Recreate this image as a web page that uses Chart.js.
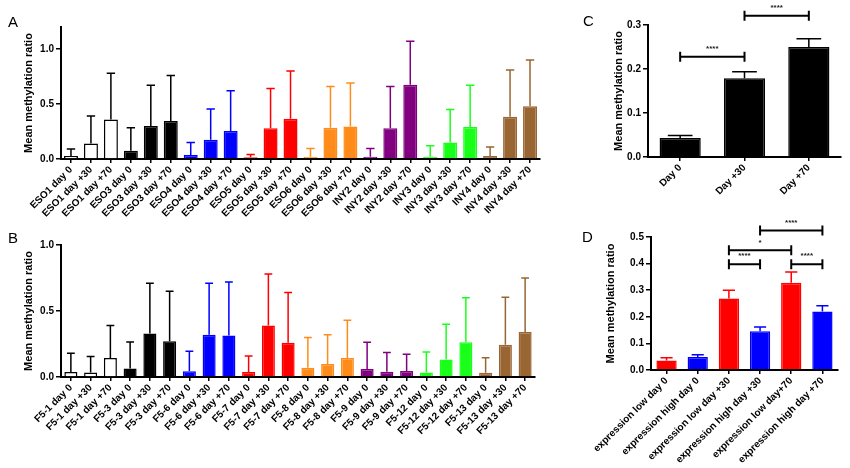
<!DOCTYPE html>
<html>
<head>
<meta charset="utf-8">
<script src="https://cdn.jsdelivr.net/npm/chart.js@4.4.0/dist/chart.umd.min.js"></script>
<style>
    body { margin: 0; background: #fff; width: 850px; height: 468px; position: relative; overflow: hidden; font-family: 'Liberation Sans', Arial, sans-serif; }
    canvas { position: absolute; }
    .tag { position: absolute; font-size: 15px; color: #000; }
</style>
</head>
<body>
<canvas id="chartA" width="550" height="225" style="left:0px;top:0px"></canvas>
<canvas id="chartB" width="550" height="243" style="left:0px;top:225px"></canvas>
<canvas id="chartC" width="260" height="215" style="left:590px;top:0px"></canvas>
<canvas id="chartD" width="260" height="253" style="left:590px;top:215px"></canvas>
<div class="tag" style="left:8px;top:13px">A</div>
<div class="tag" style="left:8px;top:229px">B</div>
<div class="tag" style="left:583px;top:12px">C</div>
<div class="tag" style="left:582px;top:228px">D</div>
<script>
// Panel A
const labelsA = ['ESO1 day 0', 'ESO1 day +30', 'ESO1 day +70', 'ESO3 day 0', 'ESO3 day +30', 'ESO3 day +70',
    'ESO4 day 0', 'ESO4 day +30', 'ESO4 day +70', 'ESO5 day 0', 'ESO5 day +30', 'ESO5 day +70',
    'ESO6 day 0', 'ESO6 day +30', 'ESO6 day +70', 'INY2 day 0', 'INY2 day +30', 'INY2 day +70',
    'INY3 day 0', 'INY3 day +30', 'INY3 day +70', 'INY4 day 0', 'INY4 day +30', 'INY4 day +70'];
const meansA = [0.027, 0.14, 0.36, 0.075, 0.30, 0.345, 0.036, 0.175, 0.255, 0.015, 0.28, 0.365,
    0.02, 0.285, 0.295, 0.02, 0.28, 0.675, 0.02, 0.15, 0.29, 0.027, 0.385, 0.48];
const sdA = [0.063, 0.25, 0.42, 0.21, 0.37, 0.415, 0.114, 0.28, 0.365, 0.025, 0.36, 0.435,
    0.075, 0.375, 0.395, 0.075, 0.38, 0.395, 0.10, 0.30, 0.38, 0.083, 0.425, 0.42];
const ticksA = [0, 0.5, 1.0];

// Panel B
const labelsB = ['F5-1 day 0', 'F5-1 day +30', 'F5-1 day +70', 'F5-3 day 0', 'F5-3 day +30', 'F5-3 day +70',
    'F5-6 day 0', 'F5-6 day +30', 'F5-6 day +70', 'F5-7 day 0', 'F5-7 day +30', 'F5-7 day +70',
    'F5-8 day 0', 'F5-8 day +30', 'F5-8 day +70', 'F5-9 day 0', 'F5-9 day +30', 'F5-9 day +70',
    'F5-12 day 0', 'F5-12 day +30', 'F5-12 day +70', 'F5-13 day 0', 'F5-13 day +30', 'F5-13 day +70'];
const meansB = [0.038, 0.035, 0.143, 0.065, 0.33, 0.27, 0.043, 0.32, 0.315, 0.038, 0.39, 0.26,
    0.07, 0.098, 0.143, 0.06, 0.04, 0.045, 0.035, 0.133, 0.264, 0.033, 0.244, 0.34];
const sdB = [0.142, 0.12, 0.247, 0.20, 0.38, 0.38, 0.153, 0.39, 0.405, 0.122, 0.39, 0.38,
    0.23, 0.222, 0.287, 0.204, 0.146, 0.128, 0.155, 0.267, 0.336, 0.113, 0.361, 0.41];
const ticksB = [0, 0.5, 1.0];

// one colour per patient (3 time points each)
const groupFill = ['#ffffff', '#000000', '#0000ff', '#ff0000', '#ff8c1a', '#800080', '#1aff1a', '#996633'];
const groupLine = ['#000000', '#000000', '#0000ff', '#ff0000', '#ff8c1a', '#800080', '#1aff1a', '#996633'];

// Panel C
const labelsC = ['Day 0', 'Day +30', 'Day +70'];
const meansC = [0.043, 0.179, 0.25];
const sdC = [0.006, 0.015, 0.019];
const ticksC = [0, 0.1, 0.2, 0.3];
const sigC = [
    { from: 0, to: 1, y: 0.228, text: '****' },
    { from: 1, to: 2, y: 0.321, text: '****' }
];

// Panel D
const labelsD = ['expression low day 0', 'expression high day 0', 'expression low day +30',
    'expression high day +30', 'expression low day+70', 'expression high day +70'];
const meansD = [0.036, 0.049, 0.269, 0.146, 0.328, 0.22];
const sdD = [0.010, 0.008, 0.031, 0.016, 0.040, 0.022];
const ticksD = [0, 0.1, 0.2, 0.3, 0.4, 0.5];
const colorsD = ['#ff0000', '#0000ff', '#ff0000', '#0000ff', '#ff0000', '#0000ff'];
const sigD = [
    { from: 2, to: 3, y: 0.398, text: '****' },
    { from: 2, to: 4, y: 0.45, text: '*' },
    { from: 4, to: 5, y: 0.398, text: '****' },
    { from: 3, to: 5, y: 0.524, text: '****' }
];

const FONT = "'Liberation Sans', Arial, sans-serif";

// upper error bars + significance brackets
function overlay(sd, lineColors, brackets) {
    return {
        id: 'overlay',
        afterDatasetsDraw(chart) {
            const ctx = chart.ctx;
            const y = chart.scales.y;
            const ds = chart.data.datasets[0];
            const bars = chart.getDatasetMeta(0).data;
            ctx.save();
            ctx.lineWidth = 1.5;
            bars.forEach((bar, i) => {
                const top = y.getPixelForValue(ds.data[i] + sd[i]);
                const half = bar.width * 0.3;
                ctx.strokeStyle = lineColors[i];
                ctx.beginPath();
                ctx.moveTo(bar.x, bar.y);
                ctx.lineTo(bar.x, top);
                ctx.moveTo(bar.x - half, top);
                ctx.lineTo(bar.x + half, top);
                ctx.stroke();
            });
            ctx.strokeStyle = '#000';
            ctx.fillStyle = '#222';
            ctx.lineWidth = 2;
            ctx.font = 'bold 8px ' + FONT;
            ctx.textAlign = 'center';
            ctx.textBaseline = 'bottom';
            (brackets || []).forEach(b => {
                const x1 = bars[b.from].x, x2 = bars[b.to].x;
                const yy = y.getPixelForValue(b.y);
                ctx.beginPath();
                ctx.moveTo(x1, yy); ctx.lineTo(x2, yy);
                ctx.moveTo(x1, yy - 5); ctx.lineTo(x1, yy + 5);
                ctx.moveTo(x2, yy - 5); ctx.lineTo(x2, yy + 5);
                ctx.stroke();
                ctx.fillText(b.text, (x1 + x2) / 2, yy - 4);
            });
            ctx.restore();
        }
    };
}

function makeChart(id, cfg) {
    new Chart(document.getElementById(id), {
        type: 'bar',
        data: {
            labels: cfg.labels,
            datasets: [{
                data: cfg.means,
                backgroundColor: cfg.fill,
                borderColor: cfg.line,
                borderWidth: 1.5,
                barPercentage: cfg.barPct,
                categoryPercentage: 1
            }]
        },
        options: {
            responsive: false,
            animation: false,
            layout: { padding: { top: cfg.padTop, right: cfg.padRight, left: 0, bottom: 0 } },
            plugins: { legend: { display: false }, tooltip: { enabled: false } },
            scales: {
                x: {
                    afterFit: s => { s.height = cfg.xHeight; },
                    grid: { offset: false, drawOnChartArea: false, color: '#000', lineWidth: 1.5, tickLength: 4 },
                    border: { color: '#000', width: 2 },
                    ticks: {
                        autoSkip: false, minRotation: 45, maxRotation: 45, padding: 1,
                        color: '#000', font: { family: FONT, size: 10, weight: 'bold' }
                    }
                },
                y: {
                    min: 0,
                    max: cfg.yMax,
                    afterFit: s => { s.width = cfg.yWidth; },
                    afterBuildTicks: s => { s.ticks = cfg.yTicks.map(v => ({ value: v })); },
                    grid: { drawOnChartArea: false, color: '#000', lineWidth: 1.5, tickLength: 5 },
                    border: { color: '#000', width: 2 },
                    ticks: {
                        padding: 2, color: '#000',
                        font: { family: FONT, size: 10, weight: 'bold' },
                        callback: v => v.toFixed(1)
                    },
                    title: {
                        display: true,
                        text: 'Mean methylation ratio',
                        color: '#000',
                        padding: { top: cfg.titlePad, bottom: 0 },
                        font: { family: FONT, size: 11, weight: 'bold' }
                    }
                }
            }
        },
        plugins: [overlay(cfg.sd, cfg.line, cfg.brackets)]
    });
}

const byGroup = arr => labelsA.map((_, i) => arr[Math.floor(i / 3)]);

makeChart('chartA', {
    labels: labelsA, means: meansA, sd: sdA, fill: byGroup(groupFill), line: byGroup(groupLine),
    barPct: 0.7, yMax: 1.2, yTicks: ticksA, yWidth: 61, xHeight: 66, padTop: 27, padRight: 10, titlePad: 22
});
makeChart('chartB', {
    labels: labelsB, means: meansB, sd: sdB, fill: byGroup(groupFill), line: byGroup(groupLine),
    barPct: 0.66, yMax: 1.0, yTicks: ticksB, yWidth: 61, xHeight: 91, padTop: 20, padRight: 15, titlePad: 22
});
makeChart('chartC', {
    labels: labelsC, means: meansC, sd: sdC, fill: ['#000', '#000', '#000'], line: ['#000', '#000', '#000'],
    barPct: 0.64, yMax: 0.3, yTicks: ticksC, yWidth: 58, xHeight: 58, padTop: 25, padRight: 9, titlePad: 22,
    brackets: sigC
});
makeChart('chartD', {
    labels: labelsD, means: meansD, sd: sdD, fill: colorsD, line: colorsD,
    barPct: 0.65, yMax: 0.5, yTicks: ticksD, yWidth: 53, xHeight: 98, padTop: 22, padRight: 12, titlePad: 6,
    brackets: sigD
});
</script>
</body>
</html>
